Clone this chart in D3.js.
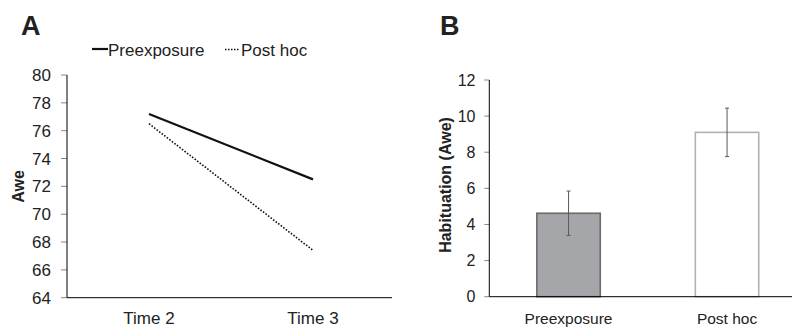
<!DOCTYPE html>
<html>
<head>
<meta charset="utf-8">
<script src="https://cdn.jsdelivr.net/npm/d3@7"></script>
<style>
  body { margin: 0; background: #fff; }
  svg { display: block; font-family: "Liberation Sans", Arial, sans-serif; }
  text { fill: #222; }
</style>
</head>
<body>
<div id="scene"></div>
<script>
// panel A: awe over time
const times = ['Time 2', 'Time 3'];
const preexposure = [77.2, 72.5];
const postHoc = [76.5, 67.4];
const aweTicks = [64, 66, 68, 70, 72, 74, 76, 78, 80];

// panel B: habituation
const groups = ['Preexposure', 'Post hoc'];
const habituation = [4.62, 9.1];
const habituationErr = [1.23, 1.34];
const habTicks = [0, 2, 4, 6, 8, 10, 12];

const width = 795;
const height = 327;

const svg = d3.select('#scene').append('svg')
    .attr('width', width)
    .attr('height', height);

// ---------- panel A ----------
const a = { left: 67, right: 392, top: 75, bottom: 297.7 };

const xA = d3.scaleBand().domain(times).range([a.left, a.left + 328]);
const yA = d3.scaleLinear().domain([64, 80]).range([a.bottom, a.top]);

svg.append('text')
    .attr('x', 21).attr('y', 35)
    .attr('font-size', 27).attr('font-weight', 'bold')
    .text('A');

const gA = svg.append('g');

// y ticks
gA.selectAll('.yTick')
    .data(aweTicks)
    .enter().append('line')
    .attr('x1', a.left - 6).attr('x2', a.left)
    .attr('y1', d => yA(d)).attr('y2', d => yA(d))
    .attr('stroke', '#888');

gA.selectAll('.yLabel')
    .data(aweTicks)
    .enter().append('text')
    .attr('x', 51)
    .attr('y', d => yA(d))
    .attr('dy', '0.36em')
    .attr('text-anchor', 'end')
    .attr('font-size', 17)
    .text(String);

gA.append('line')
    .attr('x1', a.left).attr('x2', a.left)
    .attr('y1', a.top).attr('y2', a.bottom)
    .attr('stroke', '#000');
gA.append('line')
    .attr('x1', a.left).attr('x2', a.right)
    .attr('y1', a.bottom).attr('y2', a.bottom)
    .attr('stroke', '#000');

gA.selectAll('.xLabel')
    .data(times)
    .enter().append('text')
    .attr('x', d => xA(d) + xA.bandwidth() / 2)
    .attr('y', 324)
    .attr('text-anchor', 'middle')
    .attr('font-size', 17)
    .text(String);

gA.append('text')
    .attr('transform', `translate(24,${(a.top + a.bottom) / 2}) rotate(-90)`)
    .attr('text-anchor', 'middle')
    .attr('font-size', 16).attr('font-weight', 'bold')
    .text('Awe');

const line = d3.line()
    .x((d, i) => xA(times[i]) + xA.bandwidth() / 2)
    .y(d => yA(d));

gA.append('path')
    .datum(preexposure)
    .attr('d', line)
    .attr('fill', 'none')
    .attr('stroke', '#111')
    .attr('stroke-width', 2.2);

gA.append('path')
    .datum(postHoc)
    .attr('d', line)
    .attr('fill', 'none')
    .attr('stroke', '#111')
    .attr('stroke-width', 1.6)
    .attr('stroke-dasharray', '1.6,1.6');

// legend
const legend = svg.append('g');
legend.append('line')
    .attr('x1', 92).attr('x2', 108).attr('y1', 49).attr('y2', 49)
    .attr('stroke', '#111').attr('stroke-width', 2.2);
legend.append('text')
    .attr('x', 108).attr('y', 55.5).attr('font-size', 17)
    .text('Preexposure');
legend.append('line')
    .attr('x1', 225).attr('x2', 240).attr('y1', 49.5).attr('y2', 49.5)
    .attr('stroke', '#111').attr('stroke-width', 1.4)
    .attr('stroke-dasharray', '1.5,1.5');
legend.append('text')
    .attr('x', 241).attr('y', 55.5).attr('font-size', 17)
    .text('Post hoc');

// ---------- panel B ----------
const b = { left: 489.3, right: 792, top: 80, bottom: 296.7 };

const xB = d3.scaleBand().domain(groups).range([b.left, b.left + 317]).paddingInner(0.6).paddingOuter(0.3);
const yB = d3.scaleLinear().domain([0, 12]).range([b.bottom, b.top]);

svg.append('text')
    .attr('x', 440).attr('y', 35)
    .attr('font-size', 27).attr('font-weight', 'bold')
    .text('B');

const gB = svg.append('g');

gB.selectAll('.yTick')
    .data(habTicks)
    .enter().append('line')
    .attr('x1', b.left - 5).attr('x2', b.left)
    .attr('y1', d => yB(d)).attr('y2', d => yB(d))
    .attr('stroke', '#888');

gB.selectAll('.yLabel')
    .data(habTicks)
    .enter().append('text')
    .attr('x', 475.5)
    .attr('y', d => yB(d))
    .attr('dy', '0.36em')
    .attr('text-anchor', 'end')
    .attr('font-size', 16)
    .text(String);

gB.append('text')
    .attr('transform', `translate(451,185) rotate(-90)`)
    .attr('text-anchor', 'middle')
    .attr('font-size', 16).attr('font-weight', 'bold')
    .text('Habituation (Awe)');

const barFill = ['#a5a6aa', '#ffffff'];
const barStroke = ['#6a6a6a', '#b2b2b2'];

gB.selectAll('.bar')
    .data(habituation)
    .enter().append('rect')
    .attr('x', (d, i) => xB(groups[i]))
    .attr('y', d => yB(d))
    .attr('width', xB.bandwidth())
    .attr('height', d => b.bottom - yB(d))
    .attr('fill', (d, i) => barFill[i])
    .attr('stroke', (d, i) => barStroke[i])
    .attr('stroke-width', 1.6);

// error bars
const err = gB.selectAll('.err')
    .data(habituation)
    .enter().append('g')
    .attr('stroke', '#5a5a5a')
    .attr('stroke-width', 1);

err.append('line')
    .attr('x1', (d, i) => xB(groups[i]) + xB.bandwidth() / 2)
    .attr('x2', (d, i) => xB(groups[i]) + xB.bandwidth() / 2)
    .attr('y1', (d, i) => yB(d + habituationErr[i]))
    .attr('y2', (d, i) => yB(d - habituationErr[i]));
[1, -1].forEach(s => {
    err.append('line')
        .attr('x1', (d, i) => xB(groups[i]) + xB.bandwidth() / 2 - 2)
        .attr('x2', (d, i) => xB(groups[i]) + xB.bandwidth() / 2 + 2)
        .attr('y1', (d, i) => yB(d + s * habituationErr[i]))
        .attr('y2', (d, i) => yB(d + s * habituationErr[i]));
});

gB.append('line')
    .attr('x1', b.left).attr('x2', b.left)
    .attr('y1', b.top).attr('y2', b.bottom)
    .attr('stroke', '#000');
gB.append('line')
    .attr('x1', b.left).attr('x2', b.right)
    .attr('y1', b.bottom).attr('y2', b.bottom)
    .attr('stroke', '#000');

gB.selectAll('.xLabel')
    .data(groups)
    .enter().append('text')
    .attr('x', d => xB(d) + xB.bandwidth() / 2)
    .attr('y', 324)
    .attr('text-anchor', 'middle')
    .attr('font-size', 15.5)
    .text(String);
</script>
</body>
</html>
